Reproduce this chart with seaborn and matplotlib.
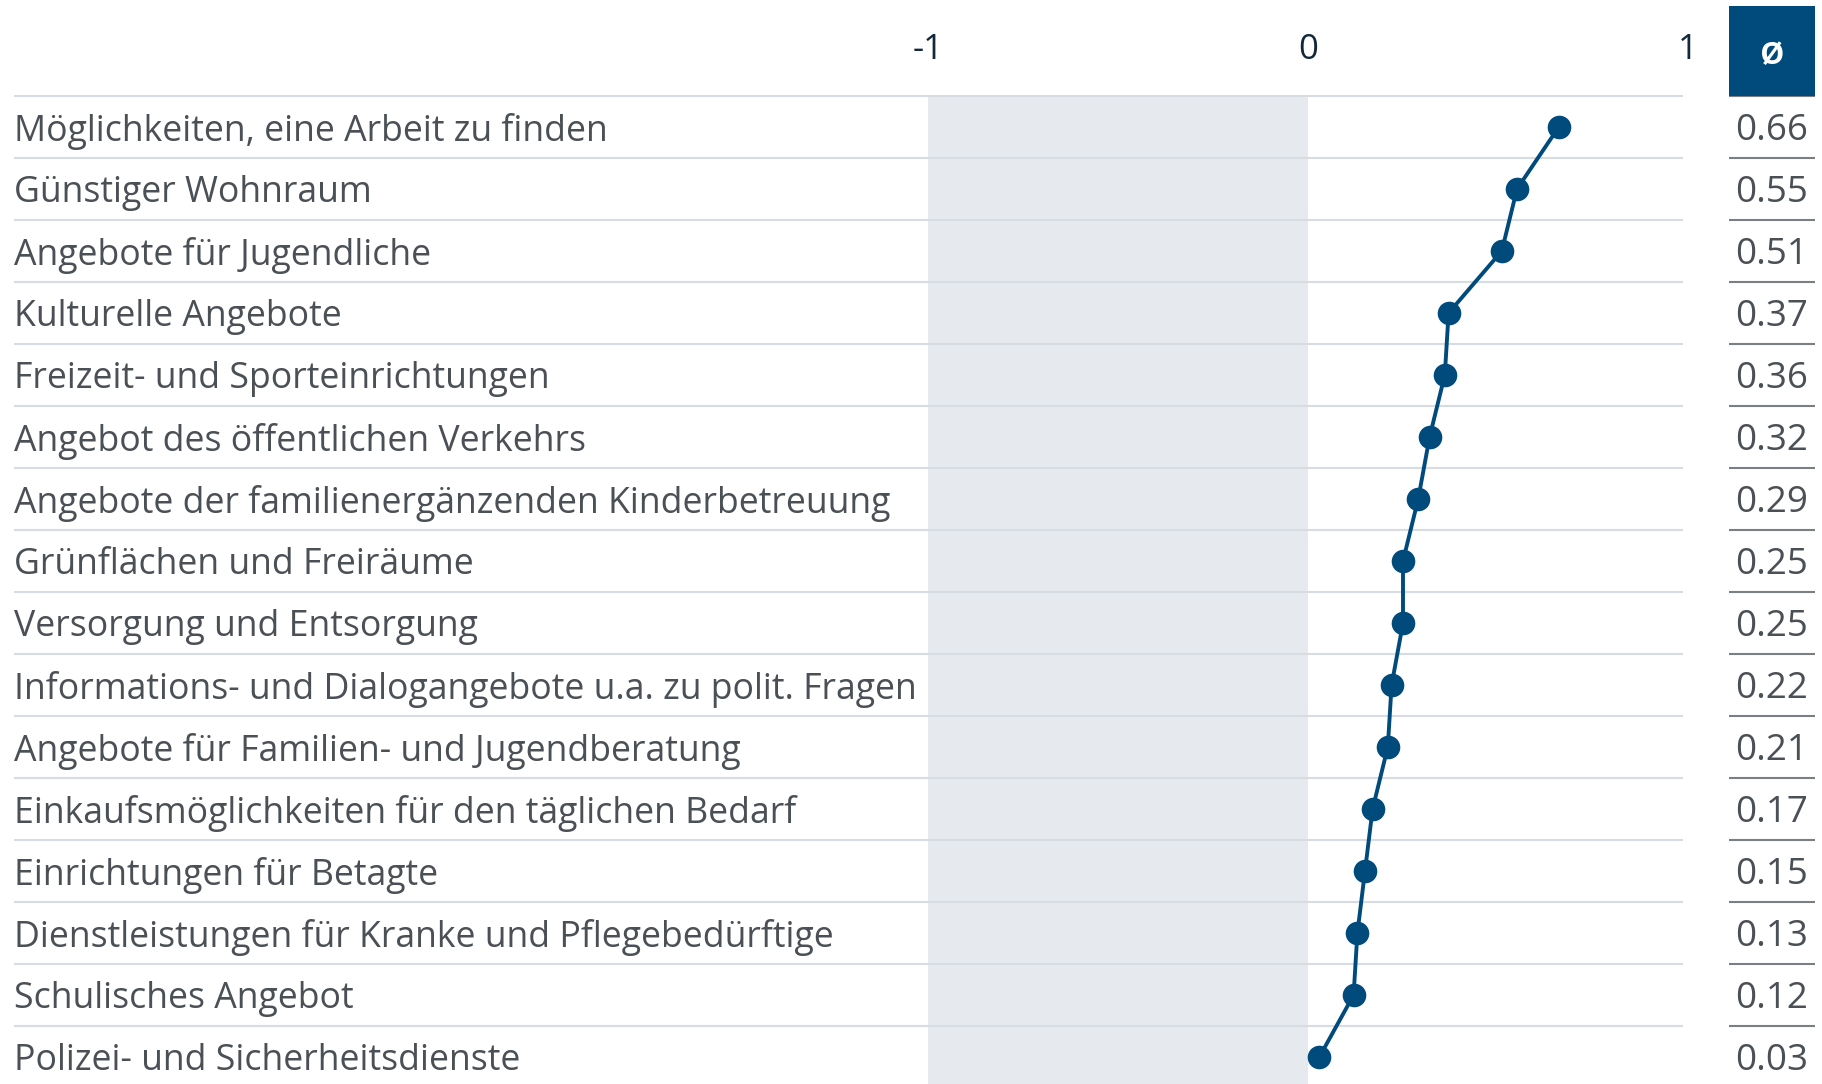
import numpy as np
import pandas as pd
import matplotlib
matplotlib.use("Agg")
import matplotlib.pyplot as plt
import seaborn as sns

# data
labels = [
    "Möglichkeiten, eine Arbeit zu finden",
    "Günstiger Wohnraum",
    "Angebote für Jugendliche",
    "Kulturelle Angebote",
    "Freizeit- und Sporteinrichtungen",
    "Angebot des öffentlichen Verkehrs",
    "Angebote der familienergänzenden Kinderbetreuung",
    "Grünflächen und Freiräume",
    "Versorgung und Entsorgung",
    "Informations- und Dialogangebote u.a. zu polit. Fragen",
    "Angebote für Familien- und Jugendberatung",
    "Einkaufsmöglichkeiten für den täglichen Bedarf",
    "Einrichtungen für Betagte",
    "Dienstleistungen für Kranke und Pflegebedürftige",
    "Schulisches Angebot",
    "Polizei- und Sicherheitsdienste",
]
values = [0.66, 0.55, 0.51, 0.37, 0.36, 0.32, 0.29, 0.25, 0.25, 0.22, 0.21, 0.17, 0.15, 0.13, 0.12, 0.03]
ticks = [-1, 0, 1]

df = pd.DataFrame({"label": labels, "value": values, "row": np.arange(len(labels))})

BLUE = "#004a7c"
GREY_TXT = "#4a5055"
sns.set_style("white")
plt.rcParams["font.family"] = ["Open Sans", "DejaVu Sans"]

fig = plt.figure(figsize=(18.22, 10.84), dpi=100)
ax = fig.add_axes([0, 0, 1, 1])

# map pixels -> data: -1 at x=928px, 0 at 1306px
unit = 380.0
x0 = -1 - 928 / unit
x1 = x0 + 1822 / unit
rowh = 62.0
ytop = -0.5 - 96 / rowh
ybot = ytop + 1084 / rowh

grid_left = x0 + 14 / unit
grid_right = x0 + 1683 / unit

# shaded negative band
ax.fill_between([-1, 0], -0.5, ybot, color="#e6eaee", lw=0, zorder=0)

# row separators
ax.hlines(df["row"] - 0.5, grid_left, grid_right, color="#d6dce1", lw=1.5, zorder=1)

# value column
col_l = x0 + 1729 / unit
col_r = x0 + 1815 / unit
ax.hlines(df["row"] - 0.5, col_l, col_r, color="#7a7f84", lw=1.5, zorder=1)
ax.fill_between([col_l, col_r], ytop + 6 / rowh, -0.5, color=BLUE, lw=0, zorder=2)
ax.text((col_l + col_r) / 2, (ytop - 0.5) / 2 + 0.1, "ø", color="white",
        ha="center", va="center", fontsize=29, fontweight="semibold")

# header ticks
for t in ticks:
    ax.text(t, -1.24, str(t), color="#14283c", ha="center", va="center", fontsize=25)

# line + markers
sns.lineplot(data=df, x="value", y="row", sort=False, estimator=None, ax=ax,
             color=BLUE, lw=2.8, marker="o", markersize=17, markeredgewidth=0, zorder=3)
ax.set_xlim(x0, x1)
ax.set_ylim(ybot, ytop)
ax.axis("off")

for r, (lab, v) in enumerate(zip(labels, values)):
    ax.text(grid_left, r + 0.07, lab, color=GREY_TXT, ha="left", va="center", fontsize=25.7)
    ax.text((col_l + col_r) / 2, r + 0.07, f"{v:.2f}", color=GREY_TXT,
            ha="center", va="center", fontsize=26.5)

fig.savefig("out.png", dpi=100)
